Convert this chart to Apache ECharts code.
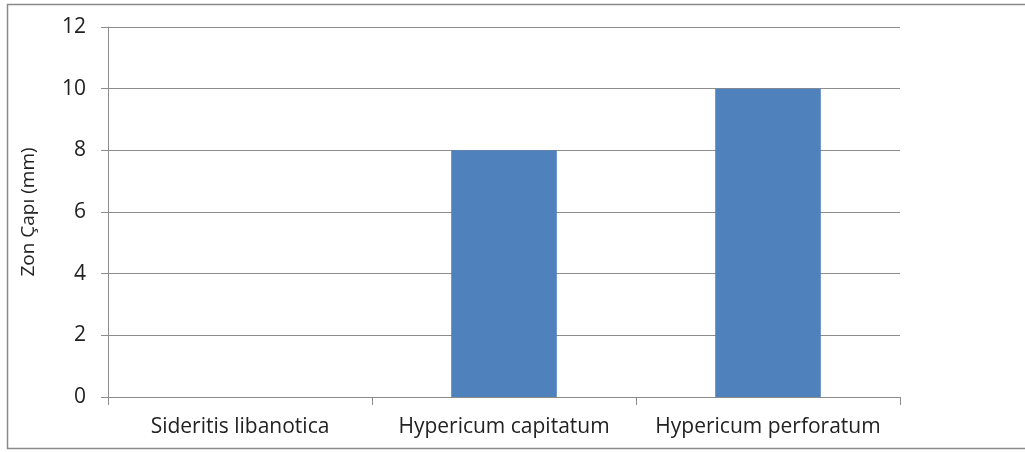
<!DOCTYPE html>
<html>
<head>
<meta charset="utf-8">
<script src="https://cdn.jsdelivr.net/npm/echarts@6/dist/echarts.min.js"></script>
<style>
  html, body { margin: 0; padding: 0; background: #ffffff; }
  #chart { width: 1025px; height: 452px; }
</style>
</head>
<body>
<div id="chart"></div>
<script>
// Inhibition zone diameters per plant extract
const categories = ['Sideritis libanotica', 'Hypericum capitatum', 'Hypericum perforatum'];
const zoneDiameter = [0, 8, 10];
const yAxisTitle = 'Zon Çapı (mm)';

const axisGray = '#8c8c8c';
const textFont = 'Open Sans';

const chart = echarts.init(document.getElementById('chart'), null, { renderer: 'canvas' });
chart.setOption({
  animation: false,
  backgroundColor: '#ffffff',
  graphic: [{
    type: 'rect',
    shape: { x: 7.5, y: 4.5, width: 1030, height: 444 },
    style: { fill: 'none', stroke: '#8a8a8a', lineWidth: 1.5 },
    silent: true
  }],
  grid: { left: 108, right: 125, top: 27, bottom: 55, containLabel: false },
  xAxis: {
    type: 'category',
    data: categories,
    axisLine: { lineStyle: { color: axisGray, width: 1 } },
    axisTick: { show: true, length: 8, lineStyle: { color: axisGray } },
    axisLabel: {
      interval: 0, hideOverlap: false,
      color: '#222', fontFamily: textFont, fontSize: 21, margin: 20
    }
  },
  yAxis: {
    type: 'value',
    min: 0, max: 12, interval: 2,
    name: yAxisTitle,
    nameLocation: 'middle',
    nameRotate: 90,
    nameGap: 70,
    nameTextStyle: { color: '#222', fontFamily: textFont, fontSize: 19 },
    axisLine: { show: true, lineStyle: { color: axisGray, width: 1 } },
    axisTick: { show: true, length: 7, lineStyle: { color: axisGray } },
    splitLine: { show: true, lineStyle: { color: axisGray, width: 1 } },
    axisLabel: { color: '#222', fontFamily: textFont, fontSize: 21, margin: 22 }
  },
  series: [{
    type: 'bar',
    data: zoneDiameter,
    barWidth: '40%',
    itemStyle: { color: '#4f81bd' }
  }]
});
</script>
</body>
</html>
